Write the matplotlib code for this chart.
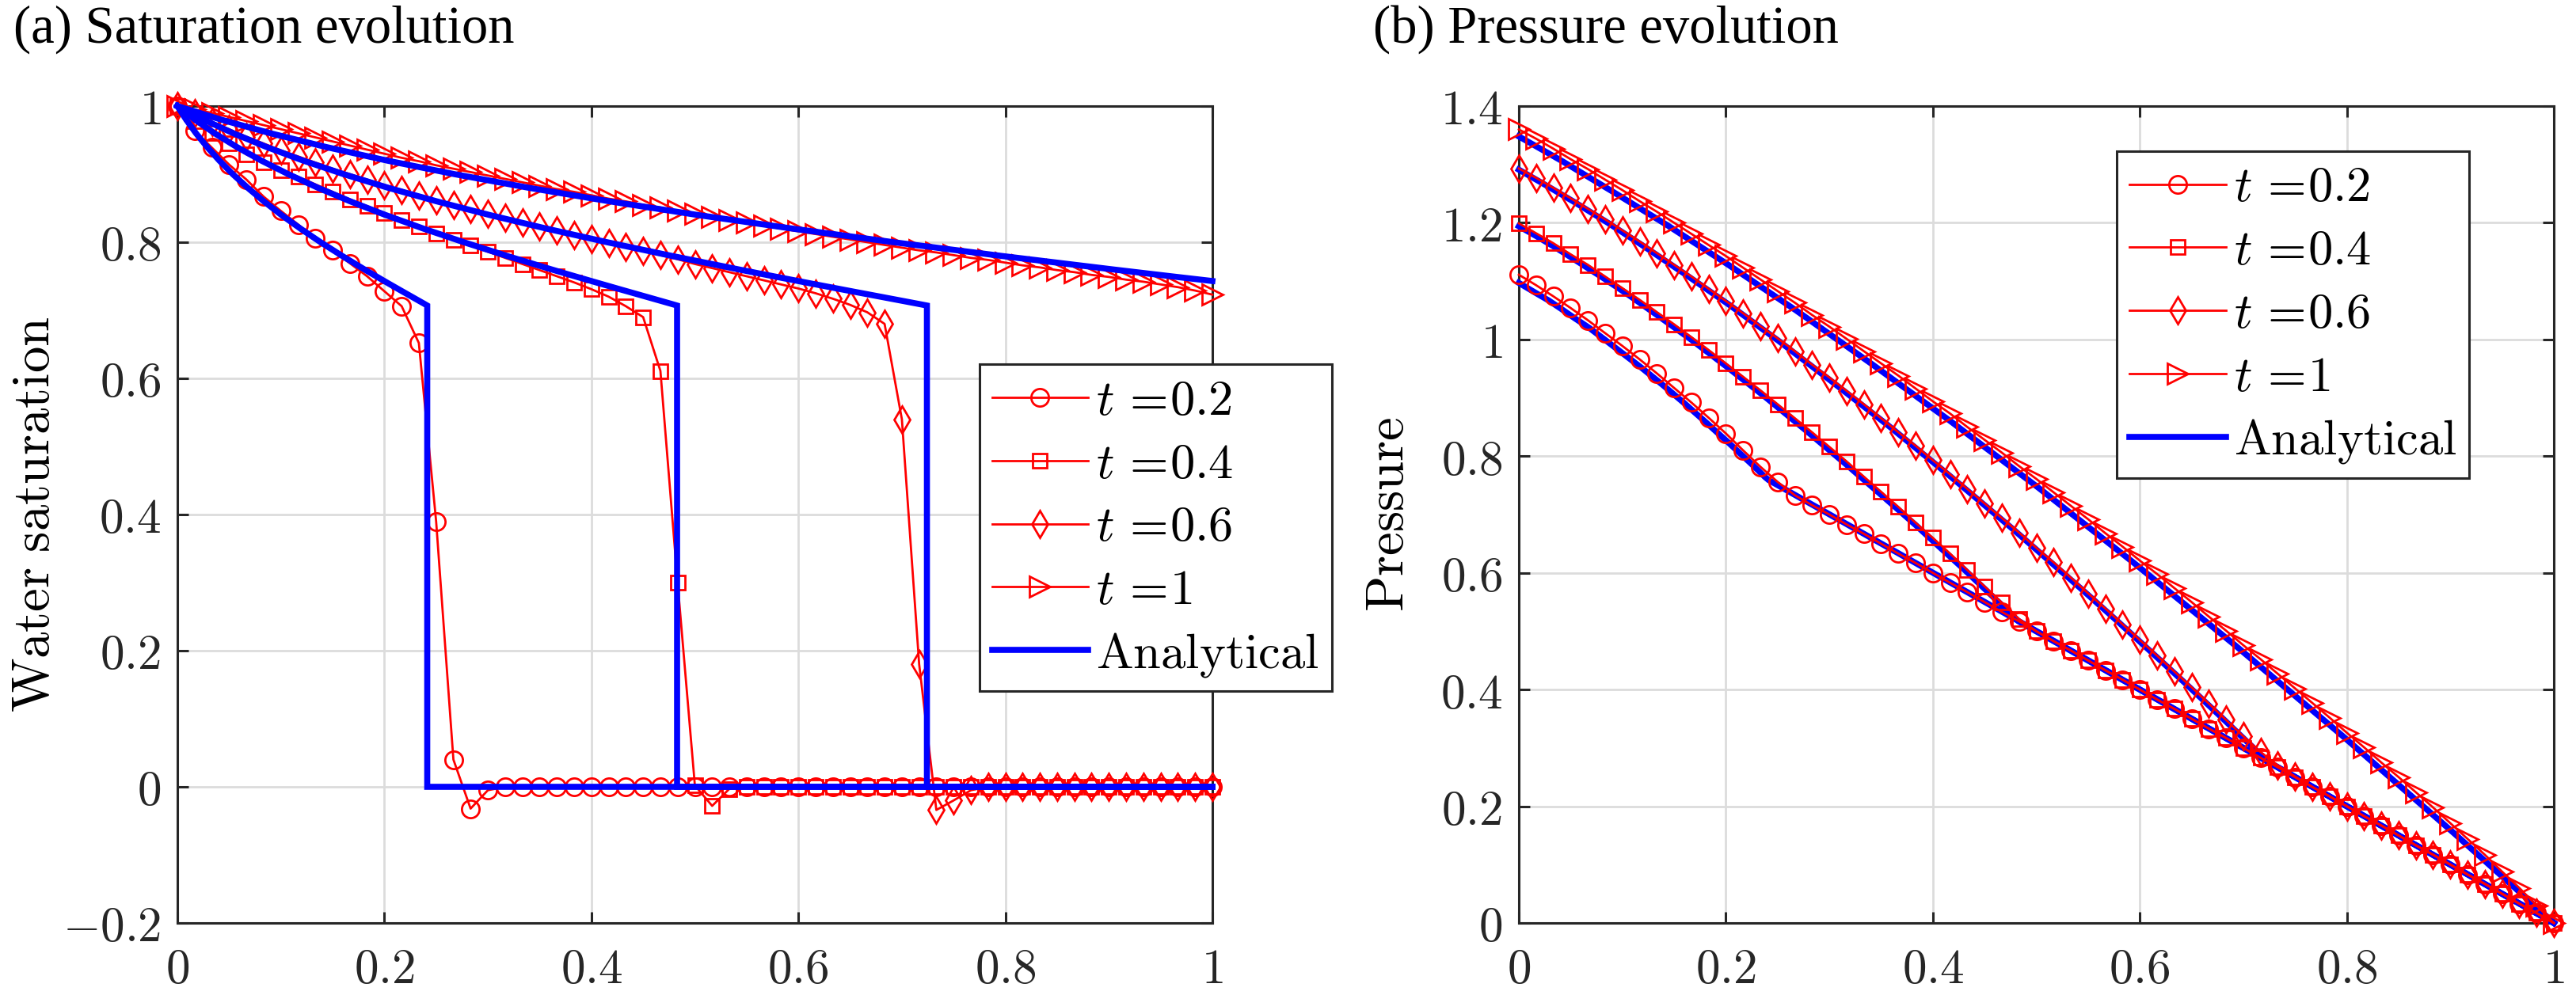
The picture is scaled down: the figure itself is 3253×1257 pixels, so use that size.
import matplotlib
matplotlib.use('Agg')
import matplotlib.pyplot as plt
from matplotlib.ticker import FixedLocator, FixedFormatter

plt.rcParams['mathtext.fontset'] = 'cm'
plt.rcParams['font.family'] = ['DejaVu Serif']
plt.rcParams['axes.unicode_minus'] = True

# ---------------- data ----------------
# mesh nodes of the numerical solution
x_nodes = [0.0000, 0.0167, 0.0333, 0.0500, 0.0667, 0.0833, 0.1000, 0.1167, 0.1333, 0.1500,
           0.1667, 0.1833, 0.2000, 0.2167, 0.2333, 0.2500, 0.2667, 0.2833, 0.3000, 0.3167,
           0.3333, 0.3500, 0.3667, 0.3833, 0.4000, 0.4167, 0.4333, 0.4500, 0.4667, 0.4833,
           0.5000, 0.5167, 0.5333, 0.5500, 0.5667, 0.5833, 0.6000, 0.6167, 0.6333, 0.6500,
           0.6667, 0.6833, 0.7000, 0.7167, 0.7333, 0.7500, 0.7667, 0.7833, 0.8000, 0.8167,
           0.8333, 0.8500, 0.8667, 0.8833, 0.9000, 0.9167, 0.9333, 0.9500, 0.9667, 0.9833,
           1.0000]

times = ['0.2', '0.4', '0.6', '1']

# numerical water saturation
sat_t02 = [1.000, 0.964, 0.939, 0.914, 0.892, 0.867, 0.846, 0.826, 0.806, 0.788,
           0.769, 0.750, 0.728, 0.706, 0.652, 0.390, 0.040, -0.032, -0.005, 0.000,
           0.000, 0.000, 0.000, 0.000, 0.000, 0.000, 0.000, 0.000, 0.000, 0.000,
           0.000, 0.000, 0.000, 0.000, 0.000, 0.000, 0.000, 0.000, 0.000, 0.000,
           0.000, 0.000, 0.000, 0.000, 0.000, 0.000, 0.000, 0.000, 0.000, 0.000,
           0.000, 0.000, 0.000, 0.000, 0.000, 0.000, 0.000, 0.000, 0.000, 0.000,
           0.000]
sat_t04 = [1.000, 0.978, 0.961, 0.945, 0.929, 0.917, 0.906, 0.896, 0.885, 0.874,
           0.863, 0.853, 0.843, 0.832, 0.823, 0.813, 0.804, 0.795, 0.786, 0.777,
           0.768, 0.759, 0.750, 0.741, 0.731, 0.720, 0.706, 0.690, 0.611, 0.300,
           0.002, -0.028, -0.003, 0.000, 0.000, 0.000, 0.000, 0.000, 0.000, 0.000,
           0.000, 0.000, 0.000, 0.000, 0.000, 0.000, 0.000, 0.000, 0.000, 0.000,
           0.000, 0.000, 0.000, 0.000, 0.000, 0.000, 0.000, 0.000, 0.000, 0.000,
           0.000]
sat_t06 = [1.000, 0.989, 0.977, 0.966, 0.955, 0.945, 0.935, 0.926, 0.917, 0.908,
           0.900, 0.892, 0.884, 0.877, 0.869, 0.862, 0.855, 0.849, 0.842, 0.836,
           0.829, 0.823, 0.817, 0.811, 0.805, 0.799, 0.793, 0.787, 0.781, 0.775,
           0.768, 0.762, 0.756, 0.750, 0.744, 0.738, 0.732, 0.725, 0.717, 0.708,
           0.697, 0.680, 0.540, 0.180, -0.034, -0.020, -0.005, 0.000, 0.000, 0.000,
           0.000, 0.000, 0.000, 0.000, 0.000, 0.000, 0.000, 0.000, 0.000, 0.000,
           0.000]
sat_t10 = [1.000, 0.995, 0.990, 0.984, 0.978, 0.972, 0.966, 0.960, 0.954, 0.948,
           0.942, 0.936, 0.930, 0.924, 0.919, 0.913, 0.908, 0.903, 0.898, 0.893,
           0.888, 0.883, 0.878, 0.874, 0.869, 0.864, 0.860, 0.855, 0.851, 0.846,
           0.842, 0.837, 0.833, 0.829, 0.824, 0.820, 0.816, 0.812, 0.808, 0.804,
           0.800, 0.796, 0.792, 0.788, 0.785, 0.781, 0.777, 0.774, 0.770, 0.766,
           0.763, 0.759, 0.756, 0.752, 0.749, 0.745, 0.742, 0.738, 0.734, 0.729,
           0.723]

# numerical pressure
pre_t02 = [1.111, 1.093, 1.074, 1.054, 1.033, 1.011, 0.989, 0.966, 0.942, 0.917,
           0.892, 0.866, 0.839, 0.810, 0.782, 0.756, 0.733, 0.716, 0.700, 0.683,
           0.667, 0.650, 0.633, 0.617, 0.600, 0.583, 0.567, 0.550, 0.533, 0.517,
           0.500, 0.483, 0.467, 0.450, 0.433, 0.417, 0.400, 0.383, 0.367, 0.350,
           0.333, 0.317, 0.300, 0.283, 0.267, 0.250, 0.233, 0.217, 0.200, 0.183,
           0.167, 0.150, 0.133, 0.117, 0.100, 0.083, 0.067, 0.050, 0.033, 0.017,
           0.000]
pre_t04 = [1.199, 1.182, 1.165, 1.146, 1.128, 1.108, 1.088, 1.068, 1.047, 1.026,
           1.004, 0.982, 0.959, 0.936, 0.913, 0.889, 0.865, 0.841, 0.816, 0.791,
           0.765, 0.739, 0.713, 0.686, 0.660, 0.633, 0.605, 0.577, 0.549, 0.521,
           0.500, 0.483, 0.467, 0.450, 0.433, 0.417, 0.400, 0.383, 0.367, 0.350,
           0.333, 0.317, 0.300, 0.283, 0.267, 0.250, 0.233, 0.217, 0.200, 0.183,
           0.167, 0.150, 0.133, 0.117, 0.100, 0.083, 0.067, 0.050, 0.033, 0.017,
           0.000]
pre_t06 = [1.293, 1.277, 1.260, 1.242, 1.224, 1.206, 1.187, 1.168, 1.148, 1.128,
           1.108, 1.087, 1.066, 1.045, 1.023, 1.002, 0.980, 0.957, 0.935, 0.912,
           0.889, 0.865, 0.841, 0.818, 0.793, 0.769, 0.744, 0.719, 0.694, 0.669,
           0.643, 0.618, 0.592, 0.565, 0.539, 0.512, 0.485, 0.458, 0.431, 0.404,
           0.376, 0.348, 0.320, 0.293, 0.270, 0.251, 0.233, 0.217, 0.200, 0.183,
           0.167, 0.150, 0.133, 0.117, 0.100, 0.083, 0.067, 0.050, 0.033, 0.017,
           0.000]
pre_t10 = [1.360, 1.344, 1.327, 1.309, 1.292, 1.274, 1.256, 1.237, 1.219, 1.200,
           1.181, 1.162, 1.143, 1.123, 1.103, 1.083, 1.063, 1.042, 1.022, 1.001,
           0.980, 0.959, 0.938, 0.916, 0.894, 0.873, 0.850, 0.828, 0.806, 0.783,
           0.761, 0.738, 0.715, 0.692, 0.668, 0.645, 0.621, 0.598, 0.574, 0.550,
           0.525, 0.501, 0.476, 0.452, 0.427, 0.402, 0.377, 0.352, 0.326, 0.301,
           0.275, 0.250, 0.224, 0.198, 0.171, 0.144, 0.117, 0.088, 0.060, 0.030,
           0.000]

# analytical solution (polyline vertices)
ana_x_t02 = [0, .0085, .018, .0287, .0405, .0535, .0679, .0836, .1005, .1189,
             .1384, .1591, .1808, .192, .2033, .2148, .2264, .238, .2414, .2414, 1.0]
ana_x_t04 = [0, .017, .036, .0573, .081, .1071, .1358, .1671, .2011, .2377,
             .2768, .3182, .3616, .384, .4067, .4296, .4528, .476, .4828, .4828, 1.0]
ana_x_t06 = [0, .0255, .0541, .086, .1214, .1606, .2036, .2507, .3016, .3566,
             .4152, .4774, .5425, .576, .61, .6444, .6792, .714, .7242, .7242, 1.0]
ana_x_t10 = [0, .0425, .0901, .1433, .2024, .2677, .3394, .4178, .5027, .5943,
             .692, .7956, .9041, .96, 1.0]

ana_sat_t02 = [1, .98, .96, .94, .92, .90, .88, .86, .84, .82,
               .80, .78, .76, .75, .74, .73, .72, .71, .707, 0, 0]
ana_sat_t04 = [1, .98, .96, .94, .92, .90, .88, .86, .84, .82,
               .80, .78, .76, .75, .74, .73, .72, .71, .707, 0, 0]
ana_sat_t06 = [1, .98, .96, .94, .92, .90, .88, .86, .84, .82,
               .80, .78, .76, .75, .74, .73, .72, .71, .707, 0, 0]
ana_sat_t10 = [1, .98, .96, .94, .92, .90, .88, .86, .84, .82,
               .80, .78, .76, .75, .743]

ana_pre_t02 = [1.097, 1.088, 1.078, 1.067, 1.053, 1.037, 1.020, 0.999, 0.976, 0.951,
               0.923, 0.892, 0.858, 0.840, 0.822, 0.803, 0.784, 0.764, 0.759, 0.759, 0.0]
ana_pre_t04 = [1.194, 1.177, 1.157, 1.133, 1.106, 1.075, 1.039, 0.999, 0.953, 0.902,
               0.845, 0.783, 0.716, 0.681, 0.644, 0.607, 0.568, 0.529, 0.517, 0.517, 0.0]
ana_pre_t06 = [1.291, 1.265, 1.235, 1.200, 1.159, 1.112, 1.059, 0.998, 0.929, 0.853,
               0.768, 0.675, 0.574, 0.521, 0.466, 0.410, 0.352, 0.293, 0.276, 0.276, 0.0]
ana_pre_t10 = [1.348, 1.305, 1.254, 1.196, 1.128, 1.050, 0.960, 0.859, 0.745, 0.617,
               0.476, 0.321, 0.153, 0.064, 0.0]

x_ticks = [0, 0.2, 0.4, 0.6, 0.8, 1]
x_ticklabels = ['0', '0.2', '0.4', '0.6', '0.8', '1']
sat_ticks = [-0.2, 0, 0.2, 0.4, 0.6, 0.8, 1]
sat_ticklabels = ['-0.2', '0', '0.2', '0.4', '0.6', '0.8', '1']
pre_ticks = [0, 0.2, 0.4, 0.6, 0.8, 1, 1.2, 1.4]
pre_ticklabels = ['0', '0.2', '0.4', '0.6', '0.8', '1', '1.2', '1.4']

# ---------------- style ----------------
W, H = 3253, 1257
RED = '#ff0000'
BLUE = '#0000ff'
AXC = '#262626'
markers = ['o', 's', 'd', '>']
msizes = [16, 12.5, 17, 18.5]
TICK_FS = 44
LABEL_FS = 48
LEG_FS = 45

fig = plt.figure(figsize=(W / 100, H / 100), dpi=100)
ax1 = fig.add_axes([224 / W, (H - 1166) / H, 1307 / W, 1032 / H])
ax2 = fig.add_axes([1918 / W, (H - 1166) / H, 1307 / W, 1032 / H])

num_sat = [sat_t02, sat_t04, sat_t06, sat_t10]
num_pre = [pre_t02, pre_t04, pre_t06, pre_t10]
ana_x = [ana_x_t02, ana_x_t04, ana_x_t06, ana_x_t10]
ana_sat = [ana_sat_t02, ana_sat_t04, ana_sat_t06, ana_sat_t10]
ana_pre = [ana_pre_t02, ana_pre_t04, ana_pre_t06, ana_pre_t10]


def leg_label(t):
    return r'$t\,=\!' + t + r'$'


def style_axes(ax, yticks, yticklabels, ylim):
    ax.set_xlim(0, 1)
    ax.set_ylim(*ylim)
    ax.xaxis.set_major_locator(FixedLocator(x_ticks))
    ax.xaxis.set_major_formatter(FixedFormatter(['$' + s + '$' for s in x_ticklabels]))
    ax.yaxis.set_major_locator(FixedLocator(yticks))
    ax.yaxis.set_major_formatter(FixedFormatter(['$' + s + '$' for s in yticklabels]))
    ax.grid(True, color='#dcdcdc', lw=2.0)
    ax.set_axisbelow(True)
    ax.tick_params(direction='in', top=True, right=True, length=10, width=2.2,
                   color=AXC, labelcolor=AXC, labelsize=TICK_FS)
    ax.tick_params(axis='x', pad=21)
    ax.tick_params(axis='y', pad=15)
    for sp in ax.spines.values():
        sp.set_color(AXC)
        sp.set_linewidth(2.2)


# ---- saturation ----
for i, t in enumerate(times):
    ax1.plot(x_nodes, num_sat[i], color=RED, lw=2.0, marker=markers[i], ms=msizes[i],
             mfc='none', mec=RED, mew=2.0, clip_on=False, zorder=3, label=leg_label(t))
for i, t in enumerate(times):
    ax1.plot(ana_x[i], ana_sat[i], color=BLUE, lw=5.5, clip_on=False, zorder=4,
             solid_joinstyle='miter', label=r'$\mathrm{Analytical}$' if i == 0 else None)
style_axes(ax1, sat_ticks, sat_ticklabels, (-0.2, 1))
ax1.set_ylabel(r'$\mathrm{Water\ saturation}$', fontsize=LABEL_FS, color='black')
ax1.yaxis.set_label_coords(-0.113, 0.5)

# ---- pressure ----
for i, t in enumerate(times):
    ax2.plot(ana_x[i], ana_pre[i], color=BLUE, lw=5.5, clip_on=False, zorder=3,
             solid_joinstyle='miter', label=r'$\mathrm{Analytical}$' if i == 0 else None)
for i, t in enumerate(times):
    ax2.plot(x_nodes, num_pre[i], color=RED, lw=2.0, marker=markers[i], ms=msizes[i],
             mfc='none', mec=RED, mew=2.0, clip_on=False, zorder=4, label=leg_label(t))
style_axes(ax2, pre_ticks, pre_ticklabels, (0, 1.4))
ax2.set_ylabel(r'$\mathrm{Pressure}$', fontsize=LABEL_FS, color='black')
ax2.yaxis.set_label_coords(-0.101, 0.5)


def make_legend(ax, anchor):
    h, l = ax.get_legend_handles_labels()
    order = [l.index(leg_label(t)) for t in times] + [l.index(r'$\mathrm{Analytical}$')]
    leg = ax.legend([h[j] for j in order], [l[j] for j in order], loc='upper left',
                    bbox_to_anchor=anchor, fontsize=LEG_FS, handlelength=1.95,
                    handletextpad=0.16, borderpad=0.25, labelspacing=0.3,
                    fancybox=False, framealpha=1, edgecolor=AXC, numpoints=1,
                    borderaxespad=0)
    leg.get_frame().set_linewidth(2.2)
    leg.set_zorder(10)
    return leg


make_legend(ax1, (0.775, 0.684))
make_legend(ax2, (0.578, 0.945))

fig.text(17 / W, 1 - 37 / H, '(a) Saturation evolution', fontsize=48,
         family=['Liberation Serif', 'DejaVu Serif'], va='center', ha='left')
fig.text(1734 / W, 1 - 37 / H, '(b) Pressure evolution', fontsize=48,
         family=['Liberation Serif', 'DejaVu Serif'], va='center', ha='left')

fig.savefig('out.png', dpi=100)
